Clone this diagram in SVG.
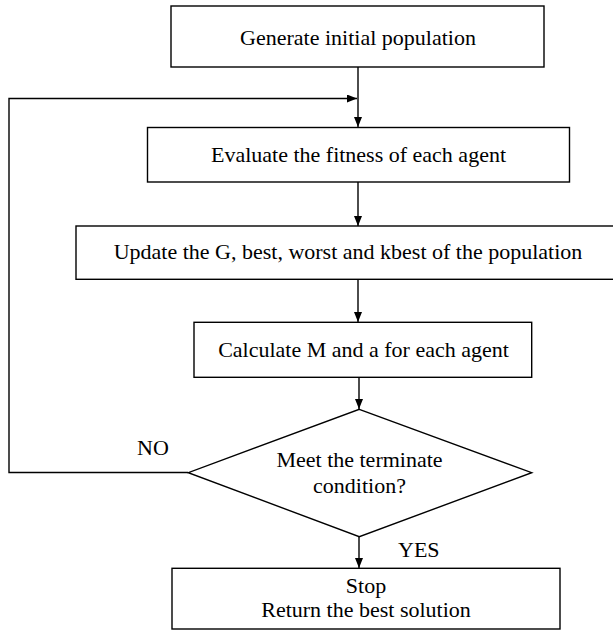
<svg xmlns="http://www.w3.org/2000/svg" width="613" height="631" viewBox="0 0 613 631">
<defs>
<style>
.box{fill:#fff;stroke:#000;stroke-width:1.4}
.t{font-family:"Liberation Serif","Times New Roman",serif;font-size:22px;fill:#000;text-anchor:middle}
.lbl{font-family:"Liberation Serif","Times New Roman",serif;font-size:22px;fill:#000}
.c{fill:none;stroke:#000;stroke-width:1.4}
</style>
<marker id="ah" viewBox="0 0 10 8" refX="10" refY="4" markerWidth="10" markerHeight="8" markerUnits="userSpaceOnUse" orient="auto">
<path d="M0,0 L10,4 L0,8 Z" fill="#000"/>
</marker>
</defs>
<rect width="613" height="631" fill="#fff"/>
<g id="connectors">
<line class="c" x1="358" y1="67" x2="358" y2="127" marker-end="url(#ah)"/>
<line class="c" x1="358" y1="182" x2="358" y2="226" marker-end="url(#ah)"/>
<line class="c" x1="358" y1="279" x2="358" y2="322" marker-end="url(#ah)"/>
<line class="c" x1="359" y1="377" x2="359" y2="409" marker-end="url(#ah)"/>
<line class="c" x1="359" y1="537" x2="359" y2="568" marker-end="url(#ah)"/>
<polyline class="c" points="188,472.5 9,472.5 9,98.5 357,98.5" marker-end="url(#ah)"/>
<text class="lbl" x="137" y="455">NO</text>
<text class="lbl" x="398" y="557">YES</text>
</g>
<g id="n1">
<rect class="box" x="171" y="6" width="373" height="61"/>
<text class="t" x="358" y="45">Generate initial population</text>
</g>
<g id="n2">
<rect class="box" x="147.5" y="127.5" width="422" height="54.5"/>
<text class="t" x="358.5" y="162">Evaluate the fitness of each agent</text>
</g>
<g id="n3">
<rect class="box" x="76" y="226" width="544" height="53.3"/>
<text class="t" x="348" y="259">Update the G, best, worst and kbest of the population</text>
</g>
<g id="n4">
<rect class="box" x="194" y="322.3" width="337.7" height="55"/>
<text class="t" x="363.5" y="357">Calculate M and a for each agent</text>
</g>
<g id="n5">
<polygon class="box" points="359.3,409.3 531.7,472.7 359.3,536.7 188.3,472.7"/>
<text class="t" x="359.5" y="467">Meet the terminate</text>
<text class="t" x="359.5" y="493">condition?</text>
</g>
<g id="n6">
<rect class="box" x="172" y="568.3" width="388" height="60.7"/>
<text class="t" x="366" y="593">Stop</text>
<text class="t" x="366" y="617">Return the best solution</text>
</g>
</svg>
